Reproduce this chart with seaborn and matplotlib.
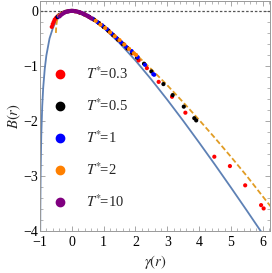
import numpy as np
import pandas as pd
import seaborn as sns
import matplotlib.pyplot as plt
from matplotlib.ticker import MultipleLocator

# solid blue reference curve
curve_g = [-0.995, -0.99, -0.98, -0.96, -0.93, -0.9, -0.85, -0.8, -0.7, -0.6, -0.5, -0.4, -0.3,
           -0.2, -0.1, 0.0, 0.25, 0.5, 0.75, 1.0, 1.5, 2.0, 2.5, 3.0, 3.5, 4.0, 4.5, 5.0, 5.5, 6.0, 6.25]
curve_b = [-4.30, -3.62, -2.93, -2.26, -1.73, -1.40, -1.05, -0.81, -0.50, -0.32, -0.19, -0.11, -0.057,
           -0.023, -0.005, 0.0, -0.027, -0.095, -0.19, -0.307, -0.584, -0.90, -1.247, -1.614, -1.996,
           -2.391, -2.795, -3.208, -3.628, -4.054, -4.27]

# dashed orange curve
dash_g = [-0.50, -0.49, -0.47, -0.44, -0.4, -0.3, -0.2, -0.1, 0.0, 0.25, 0.5, 0.75, 1.0, 1.5, 2.0,
          2.5, 3.0, 3.5, 4.0, 4.5, 5.0, 5.5, 6.0, 6.3]
dash_b = [-0.40, -0.28, -0.19, -0.13, -0.09, -0.045, -0.018, -0.004, 0.0, -0.025, -0.09, -0.18, -0.28,
          -0.52, -0.78, -1.06, -1.35, -1.66, -1.98, -2.31, -2.65, -3.0, -3.37, -3.59]

# simulation points for each temperature
g_03 = [-0.63, -0.6, -0.57, -0.54, -0.5, -0.45, -0.4, -0.3, -0.2, -0.1, 0.0, 0.1, 0.25, 0.4, 0.55, 0.7,
        0.85, 1.0, 1.15, 1.3, 1.45, 1.6, 1.75, 1.9, 2.1, 2.36, 2.73, 3.15, 3.57, 4.48, 4.97, 5.45, 5.95, 6.03]
b_03 = [-0.29, -0.24, -0.2, -0.16, -0.13, -0.1, -0.08, -0.045, -0.02, -0.006, 0.0, -0.005, -0.03, -0.065,
        -0.11, -0.16, -0.22, -0.29, -0.36, -0.44, -0.52, -0.6, -0.68, -0.77, -0.9, -1.04, -1.29, -1.56,
        -1.85, -2.65, -2.82, -3.17, -3.53, -3.59]

g_05 = [-0.45, -0.4, -0.3, -0.2, -0.1, 0.0, 0.1, 0.25, 0.4, 0.55, 0.7, 0.85, 1.0, 1.15, 1.3, 1.45, 1.6,
        1.75, 1.9, 2.05, 2.27, 2.5, 2.88, 3.17, 3.52, 3.85, 3.91]
b_05 = [-0.11, -0.08, -0.04, -0.018, -0.005, 0.0, -0.005, -0.03, -0.065, -0.11, -0.16, -0.22, -0.29,
        -0.36, -0.44, -0.52, -0.6, -0.68, -0.76, -0.85, -0.96, -1.1, -1.33, -1.53, -1.74, -1.95, -1.99]

g_1 = [-0.42, -0.35, -0.25, -0.15, -0.05, 0.05, 0.2, 0.35, 0.5, 0.65, 0.8, 0.95, 1.1, 1.25, 1.4, 1.55,
       1.7, 1.88, 2.07, 2.3, 2.56, 2.59]
b_1 = [-0.1, -0.065, -0.03, -0.012, -0.001, -0.001, -0.018, -0.05, -0.09, -0.14, -0.2, -0.26, -0.33,
       -0.41, -0.49, -0.57, -0.65, -0.73, -0.84, -0.98, -1.15, -1.16]

g_2 = [-0.4, -0.33, -0.25, -0.15, -0.05, 0.05, 0.15, 0.3, 0.45, 0.6, 0.75, 0.9, 1.05, 1.2, 1.35, 1.5,
       1.65, 1.8, 1.95, 2.02]
b_2 = [-0.085, -0.055, -0.03, -0.01, -0.001, -0.001, -0.01, -0.04, -0.08, -0.13, -0.18, -0.25, -0.31,
       -0.39, -0.46, -0.53, -0.61, -0.69, -0.77, -0.80]

g_10 = [-0.38, -0.33, -0.28, -0.23, -0.18, -0.13, -0.08, -0.03, 0.02, 0.07, 0.12, 0.17, 0.22, 0.27,
        0.32, 0.37, 0.42, 0.47, 0.52, 0.57, 0.62]
b_10 = [-0.098, -0.07, -0.049, -0.031, -0.018, -0.009, -0.003, -0.001, 0.0, -0.002, -0.007, -0.013,
        -0.021, -0.031, -0.042, -0.055, -0.069, -0.085, -0.101, -0.119, -0.138]

labels = ['0.3', '0.5', '1', '2', '10']
colors = ['#FF0000', '#000000', '#0000FF', '#FF8000', '#800080']

pts = pd.concat([pd.DataFrame({'g': g, 'B': b, 'T': t}) for g, b, t in
                 zip([g_03, g_05, g_1, g_2, g_10], [b_03, b_05, b_1, b_2, b_10], labels)])

sns.set_style('ticks')
plt.rcParams['font.family'] = ['Liberation Serif', 'DejaVu Serif']
plt.rcParams['mathtext.fontset'] = 'stix'

fig = plt.figure(figsize=(2.72, 2.73), dpi=100)
ax = fig.add_axes([40 / 272, 42 / 273, 230 / 272, 230 / 273])

ax.axhline(0, color='#555555', lw=0.9, ls=(0, (2, 1.5)), zorder=1)
sns.lineplot(x=curve_g, y=curve_b, color='#5E81B5', lw=1.3, ax=ax, sort=False, zorder=2)
sns.lineplot(x=dash_g, y=dash_b, color='#E19C24', lw=1.3, ax=ax, sort=False, zorder=2,
             linestyle=(0, (3, 1.5)))
sns.scatterplot(data=pts, x='g', y='B', hue='T', palette=dict(zip(labels, colors)),
                s=9, linewidth=0, ax=ax, zorder=3, legend=False)

handles = [plt.Line2D([], [], ls='', marker='o', ms=6, color=c) for c in colors]
ax.legend(handles, [r'$T^{*}\!$=' + l for l in labels], loc='upper left',
          bbox_to_anchor=(0.0, 0.745), frameon=False, fontsize=10.5,
          handletextpad=0.75, labelspacing=1.05, borderaxespad=0)

ax.set_xlim(-1, 6.23)
ax.set_ylim(-4, 0.18)
ax.xaxis.set_major_locator(MultipleLocator(1))
ax.xaxis.set_minor_locator(MultipleLocator(0.2))
ax.yaxis.set_major_locator(MultipleLocator(1))
ax.yaxis.set_minor_locator(MultipleLocator(0.2))
ax.tick_params(which='both', direction='in', top=True, right=True, color='#999999',
               labelsize=10, labelcolor='black')
ax.tick_params(axis='x', which='both', pad=3.5)
ax.tick_params(axis='y', which='both', pad=1.5)
ax.tick_params(which='major', length=3.5, width=0.6)
ax.tick_params(which='minor', length=2, width=0.5)
for s in ax.spines.values():
    s.set_color('#999999')
    s.set_linewidth(0.7)

ax.set_xlabel(r'$\gamma(r)$', fontsize=10.5, labelpad=3)
ax.set_ylabel(r'$B(r)$', fontsize=10.5, labelpad=0)

fig.savefig('out.png', dpi=100)
